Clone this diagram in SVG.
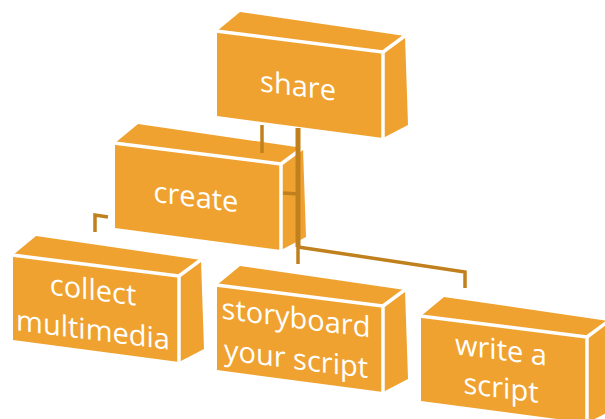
<svg xmlns="http://www.w3.org/2000/svg" xmlns:xlink="http://www.w3.org/1999/xlink" width="605" height="419" viewBox="0 0 605 419">
<style>
.face{fill:#EFA22F}
.edge{stroke:#FFFFFF;stroke-width:3.5;fill:none;stroke-linecap:butt}
.lbl{font-family:"Open Sans","Liberation Sans",sans-serif;font-size:29px;fill:#FFFFFF;text-anchor:middle}
.conn{stroke:#C0801E;stroke-width:3.5;fill:none;stroke-linejoin:miter}
</style>
<defs>
<g id="box">
<path class="face" d="M0,0 L166,21 L166,107 L0,85 Z"/>
<path class="face" d="M0,0 L23,-19 L188,5 L166,21 Z"/>
<path class="face" d="M166,21 L188,5 L191,94 L166,107 Z"/>
<path class="edge" d="M-1,0 L166,21 L166,109 M166,21 L189,4"/>
</g>
</defs>
<g id="node-share" transform="translate(217,31)">
<use xlink:href="#box"/>
<text class="lbl" transform="translate(81,65) skewY(7.2)">share</text>
</g>
<g id="node-create" transform="translate(115,143)">
<use xlink:href="#box"/>
<text class="lbl" transform="translate(81,64) skewY(7.2)">create</text>
</g>
<g id="node-collect" transform="translate(13,255)">
<use xlink:href="#box"/>
<text class="lbl" transform="translate(80,45) skewY(7.2)">collect</text>
<text class="lbl" transform="translate(80,85) skewY(7.2)">multimedia</text>
</g>
<g id="node-storyboard" transform="translate(217,285)">
<use xlink:href="#box"/>
<text class="lbl" transform="translate(79,43) skewY(7.2)">storyboard</text>
<text class="lbl" transform="translate(79,84) skewY(7.2)">your script</text>
</g>
<g id="node-write" transform="translate(421,316)">
<use xlink:href="#box"/>
<text class="lbl" transform="translate(80,44) skewY(7.2)">write a</text>
<text class="lbl" transform="translate(80,82) skewY(7.2)">script</text>
</g>
<g id="connectors">
<path class="conn" d="M262,125 L262,153"/>
<path class="conn" style="stroke-width:5" d="M298,128 L298,247"/>
<path class="conn" d="M298,247 L298,264"/>
<path class="conn" d="M298,247 L465,272 L465,288"/>
<path class="conn" d="M283,193 L298,194"/>
<path class="conn" d="M108,217 L95,215 L95,232"/>
</g>
</svg>
